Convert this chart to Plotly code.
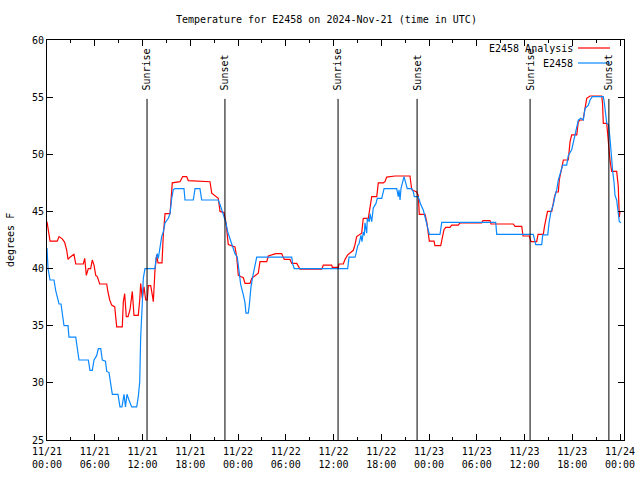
import pandas as pd
import plotly.graph_objects as go

# ---------------- data (hours since 2024-11-21 00:00 UTC) ----------------
analysis_hours = [0.0, 0.13, 0.38, 1.29, 1.51, 1.92, 2.22, 2.48, 2.64, 2.89, 3.39, 3.61, 4.56, 4.74, 4.94,
                  5.19, 5.49, 5.69, 5.91, 6.12, 6.32, 6.62, 7.50, 7.66, 7.88, 8.13, 8.51, 8.76, 9.46, 9.59,
                  9.76, 9.96, 10.18, 10.43, 10.64, 10.72, 10.93, 11.47, 11.65, 11.77, 11.97, 12.19, 12.40,
                  12.60, 12.73, 13.03, 13.23, 13.36, 13.57, 13.78, 13.95, 14.45, 14.61, 14.83, 15.46, 15.74,
                  16.71, 17.05, 17.55, 17.75, 20.48, 20.70, 21.52, 21.74, 22.24, 22.49, 22.78, 23.62, 23.84,
                  24.04, 24.67, 24.88, 25.51, 25.72, 26.55, 26.76, 27.61, 27.81, 28.74, 29.49, 29.69, 29.82,
                  30.53, 30.75, 31.38, 31.58, 31.79, 34.52, 34.72, 35.77, 35.85, 36.60, 36.69, 37.23, 37.44,
                  37.78, 38.49, 38.70, 38.91, 39.54, 39.74, 40.37, 40.59, 40.80, 41.43, 41.63, 42.26, 42.47,
                  42.68, 43.73, 45.61, 45.83, 46.45, 46.65, 46.78, 47.50, 47.71, 47.91, 48.04, 48.63, 48.75,
                  49.47, 49.60, 49.88, 50.10, 50.64, 50.85, 51.68, 51.89, 54.62, 54.78, 55.66, 55.79, 58.59,
                  58.81, 59.65, 59.81, 60.60, 60.82, 61.53, 61.70, 62.36, 62.51, 62.70, 62.89, 63.42, 63.52,
                  63.77, 63.96, 64.25, 64.37, 64.67, 64.88, 65.50, 65.72, 65.93, 66.56, 66.76, 66.97, 67.35,
                  67.48, 67.73, 67.82, 68.23, 69.70, 69.80, 69.90, 70.33, 70.49, 70.74, 70.95, 71.58, 71.78,
                  71.91, 72.0]
analysis_temp = [44.1, 43.4, 42.4, 42.4, 42.8, 42.6, 42.3, 41.6, 40.8, 41.0, 41.25, 40.4, 40.4, 40.9, 39.4,
                 40.0, 40.0, 40.75, 40.3, 39.4, 39.3, 38.65, 38.65, 37.95, 37.25, 36.8, 36.65, 34.9, 34.9, 37.1,
                 37.8, 35.8, 35.8, 36.4, 37.7, 38.0, 35.9, 35.9, 37.25, 38.7, 37.4, 38.4, 37.25,
                 37.25, 38.5, 38.5, 37.7, 37.1, 39.9, 41.2, 40.5, 40.5, 42.9, 44.8, 44.8, 47.5,
                 47.6, 48.05, 48.05, 47.7, 47.6, 46.6, 46.15, 45.0, 44.9, 44.0, 42.1, 41.9, 41.0,
                 39.4, 39.2, 38.7, 38.7, 39.15, 39.6, 40.6, 40.6, 41.1, 41.3, 41.3, 41.0, 40.8,
                 40.8, 40.45, 40.45, 40.2, 39.95, 39.95, 40.3, 40.3, 40.1, 40.1, 40.4, 40.4, 40.8,
                 41.2, 41.6, 42.1, 42.8, 43.1, 44.4, 44.4, 45.3, 46.3, 46.3, 47.5, 47.5, 47.6,
                 48.0, 48.1, 48.1, 46.9, 46.7, 46.4, 44.75, 44.75, 44.1, 43.1, 42.4, 42.4, 42.0,
                 42.0, 42.5, 43.4, 43.6, 43.6, 43.8, 43.8, 44.0, 44.0, 44.2, 44.2, 43.9, 43.9,
                 43.7, 43.7, 42.85, 42.85, 42.35, 42.35, 43.0, 43.0, 43.7, 44.55, 45.0, 45.0, 45.4,
                 46.3, 46.7, 46.7, 47.75, 48.9, 49.5, 49.5, 51.1, 51.7, 51.7, 52.85, 53.0, 53.0,
                 53.6, 54.5, 54.9, 55.1, 55.1, 54.5, 52.7, 52.7, 51.4, 49.5, 48.5, 48.5, 47.2,
                 44.5, 45.0]

station_hours = [0.0, 0.13, 0.38, 0.88, 1.09, 1.29, 1.51, 1.76, 1.92, 2.14, 2.64, 2.76, 3.61, 3.81, 4.02,
                 5.19, 5.40, 5.69, 5.91, 6.25, 6.45, 6.75, 6.95, 7.35, 7.50, 7.79, 8.00, 8.21, 8.92, 9.17,
                 9.42, 9.68, 9.86, 10.05, 10.30, 10.64, 11.27, 11.47, 11.65, 11.77, 11.97, 12.10, 12.31,
                 13.57, 13.70, 13.86, 13.99, 14.20, 14.41, 14.61, 14.83, 15.24, 15.46, 15.67, 15.87, 16.08,
                 17.21, 17.34, 18.38, 18.60, 19.22, 19.44, 21.52, 21.74, 21.95, 22.24, 22.49, 22.71, 22.91,
                 23.12, 23.41, 23.62, 23.91, 24.16, 24.34, 24.67, 24.88, 25.00, 25.29, 25.42, 25.63, 25.85,
                 26.14, 26.35, 30.75, 30.87, 31.07, 37.78, 37.95, 38.70, 38.83, 39.04, 39.20, 39.45, 39.58,
                 39.74, 39.87, 39.95, 40.17, 40.25, 40.50, 40.59, 40.80, 41.00, 41.34, 41.50, 42.06, 42.35,
                 43.94, 44.14, 44.23, 44.36, 44.48, 44.70, 44.86, 45.07, 45.27, 45.83, 46.03, 46.15, 46.62,
                 46.78, 46.96, 47.29, 47.50, 47.71, 47.84, 48.04, 49.38, 49.60, 56.38, 56.51, 61.10, 61.23,
                 61.41, 62.16, 62.29, 62.92, 63.08, 63.33, 63.62, 63.83, 64.05, 64.25, 64.46, 64.80, 65.30,
                 65.50, 65.93, 66.13, 66.56, 66.76, 67.06, 67.39, 67.60, 68.02, 68.23, 68.52, 69.90, 70.03,
                 70.33, 70.55, 70.74, 70.87, 71.08, 71.24, 71.37, 71.58, 71.71, 71.91, 72.12]
station_temp = [41.8, 40.0, 39.0, 39.0, 38.1, 37.5, 36.9, 36.9, 35.9, 35.0, 35.0, 34.0, 34.0, 33.2, 32.0,
                32.0, 31.1, 31.1, 32.0, 32.4, 33.0, 33.0, 32.0, 31.9, 31.0, 30.9, 29.7, 29.0, 29.0, 27.9,
                27.9, 29.0, 27.9, 29.0, 28.5, 27.9, 27.9, 28.8, 30.1, 34.0, 36.9, 39.15, 40.0,
                40.0, 40.9, 41.3, 40.9, 41.8, 42.8, 43.2, 44.0, 44.4, 44.8, 46.15, 46.9, 47.0,
                47.0, 46.0, 46.0, 47.0, 47.0, 46.0, 46.0, 45.6, 45.1, 44.4, 44.0, 43.2, 42.8,
                42.35, 41.8, 41.3, 41.0, 39.6, 38.6, 37.7, 37.0, 36.1, 36.1, 36.8, 38.4, 39.3,
                40.45, 41.0, 41.0, 40.4, 40.0, 40.0, 41.0, 41.0, 41.3, 42.0, 42.15, 42.9, 42.35,
                43.2, 42.9, 44.0, 43.1, 44.4, 44.1, 44.8, 44.1, 45.3, 45.7, 46.15, 46.15, 47.0,
                47.0, 46.3, 46.9, 46.0, 47.0, 47.75, 48.05, 47.5, 47.0, 47.0, 46.7, 46.3, 46.3,
                46.0, 45.6, 45.1, 44.55, 44.0, 43.5, 43.0, 43.0, 44.05, 44.05, 43.0, 43.0, 42.55,
                42.1, 42.1, 42.95, 42.95, 44.0, 45.0, 45.6, 46.35, 46.9, 47.75, 48.2, 49.05, 49.05,
                49.9, 50.4, 51.1, 52.3, 53.0, 53.15, 53.0, 54.0, 54.3, 54.75, 55.05, 55.05, 54.5,
                52.7, 52.6, 51.4, 49.9, 48.5, 47.6, 46.4, 46.0, 45.0, 44.1, 44.0]

sun_hours = [12.57, 22.36, 36.57, 46.50, 60.70, 70.60]
sun_labels = ["Sunrise", "Sunset", "Sunrise", "Sunset", "Sunrise", "Sunset"]

series_names = ["E2458 Analysis", "E2458"]
y_ticks = [25, 30, 35, 40, 45, 50, 55, 60]

# ---------------- figure ----------------
base = pd.Timestamp("2024-11-21 00:00")
def to_time(hours):
    return base + pd.to_timedelta(pd.Series(hours), unit="h")

FONT = "DejaVu Sans Mono"
RED = "#ff0000"
BLUE = "#0a88ff"

fig = go.Figure()
fig.add_trace(go.Scatter(x=to_time(analysis_hours), y=analysis_temp, mode="lines",
                         line=dict(color=RED, width=1.2), name=series_names[0], showlegend=False))
fig.add_trace(go.Scatter(x=to_time(station_hours), y=station_temp, mode="lines",
                         line=dict(color=BLUE, width=1.2), name=series_names[1], showlegend=False))

for h, lab in zip(sun_hours, sun_labels):
    t = base + pd.Timedelta(hours=h)
    fig.add_shape(type="line", xref="x", yref="y", x0=t, x1=t, y0=25, y1=54.85,
                  line=dict(color="black", width=1))
    fig.add_annotation(x=t, y=55.4, xref="x", yref="y", text=lab, textangle=-90,
                       showarrow=False, xanchor="center", yanchor="bottom",
                       font=dict(family=FONT, size=10, color="black"))

# legend (gnuplot style: text right, sample on right)
L = 47; R = 624; T = 40; B = 440
def px(x): return (x - L) / (R - L)
def py(y): return (B - y) / (B - T)
for i, (name, col) in enumerate(zip(series_names, [RED, BLUE])):
    yy = 48 + i * 15
    fig.add_annotation(x=px(575), y=py(yy), xref="paper", yref="paper", text=name,
                       showarrow=False, xanchor="right", yanchor="middle",
                       font=dict(family=FONT, size=10, color="black"))
    fig.add_shape(type="line", xref="paper", yref="paper", x0=px(578), x1=px(610),
                  y0=py(yy), y1=py(yy), line=dict(color=col, width=1.2))

fig.add_annotation(x=px(10), y=0.5, xref="paper", yref="paper", text="degrees F",
                   textangle=-90, showarrow=False, xanchor="center", yanchor="middle",
                   font=dict(family=FONT, size=10, color="black"))

fig.update_layout(
    width=640, height=480,
    margin=dict(l=L, r=640 - R, t=T, b=480 - B),
    paper_bgcolor="white", plot_bgcolor="white",
    font=dict(family=FONT, size=10, color="black"),
    title=dict(text="Temperature for E2458 on 2024-Nov-21 (time in UTC)", x=0.51, xanchor="center",
               y=1 - 19 / 480, yanchor="middle", xref="container", yref="container",
               font=dict(family=FONT, size=10, color="black")),
    showlegend=False,
)
fig.update_xaxes(
    type="date", automargin=False,
    range=[base, base + pd.Timedelta(hours=72.5)],
    tick0=base, dtick=6 * 3600 * 1000, tickformat="%m/%d<br>%H:%M",
    ticks="inside", ticklen=6, tickcolor="black", showline=True, linecolor="black", linewidth=1,
    mirror="ticks", showgrid=False, zeroline=False, ticklabelstandoff=2,
    minor=dict(dtick=3 * 3600 * 1000, ticks="inside", ticklen=3, tickcolor="black", showgrid=False),
    tickfont=dict(family=FONT, size=10, color="black"),
)
fig.update_yaxes(
    range=[25, 60], tickvals=y_ticks, automargin=False,
    ticks="inside", ticklen=6, tickcolor="black", showline=True, linecolor="black", linewidth=1,
    mirror="ticks", showgrid=False, zeroline=False,
    tickfont=dict(family=FONT, size=10, color="black"),
)

fig.write_html("out.html", config={"displayModeBar": False, "staticPlot": True},
               post_script="document.body.style.margin='0';document.body.style.padding='0';")
